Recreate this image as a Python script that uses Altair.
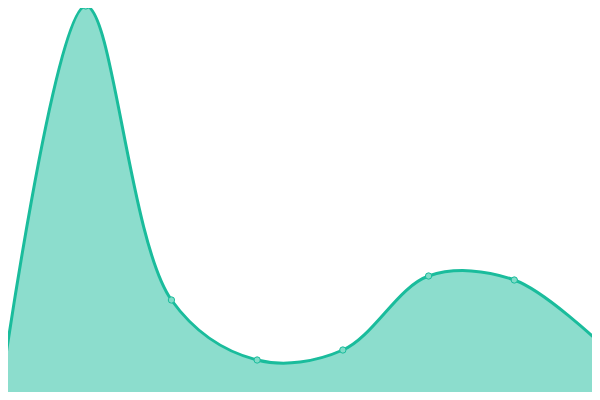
import altair as alt
import pandas as pd

idx = [0, 1, 2, 3, 4, 5, 6, 7]
values = [1, 98.5, 25, 10, 12.5, 31, 30, 14.2]

df = pd.DataFrame({"i": idx, "v": values})

teal = "#1abc9c"
x = alt.X("i:Q", axis=None, scale=alt.Scale(domain=[0.0933, 6.9067], nice=False, zero=False))
y = alt.Y("v:Q", axis=None, scale=alt.Scale(domain=[2, 98], nice=False, zero=False))

base = alt.Chart(df)
area = base.mark_area(interpolate="catmull-rom", color=teal, opacity=0.5, clip=True).encode(x=x, y=y)
line = base.mark_line(interpolate="catmull-rom", color=teal, strokeWidth=3, clip=True).encode(x=x, y=y)
pts = base.mark_point(filled=True, fill="#80dcc8", stroke=teal, strokeWidth=1, size=40, opacity=1).encode(x=x, y=y)

chart = (area + line + pts).properties(
    width=584, height=384, padding=0, autosize=alt.AutoSizeParams(type="none")
).configure_view(stroke=None)

chart.save("out.html", embed_options={"renderer": "svg", "actions": False})
